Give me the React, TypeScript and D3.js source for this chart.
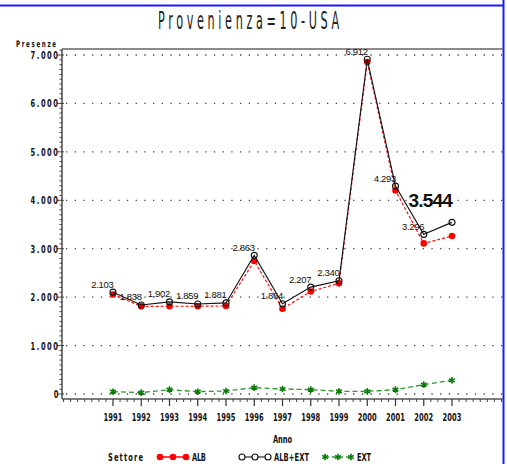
import React from "react";
import * as d3 from "d3";

const years = [1991, 1992, 1993, 1994, 1995, 1996, 1997, 1998, 1999, 2000, 2001, 2002, 2003];
const albExt = [2103, 1838, 1902, 1859, 1881, 2863, 1864, 2207, 2340, 6912, 4293, 3296, 3544];
const alb = [2055, 1810, 1812, 1811, 1819, 2745, 1761, 2117, 2285, 6857, 4203, 3110, 3262];
const ext = [48, 28, 90, 48, 62, 131, 103, 90, 55, 55, 90, 193, 282];
const yTicks = [0, 1000, 2000, 3000, 4000, 5000, 6000, 7000];
const title = "Provenienza=10-USA";
const yTitle = "Presenze";
const xTitle = "Anno";
const legendTitle = "Settore";
const seriesNames = ["ALB", "ALB+EXT", "EXT"];

const W = 507;
const H = 464;
const cond = "'DejaVu Sans Condensed', 'DejaVu Sans', sans-serif";
const sans = "'Liberation Sans', Arial, 'DejaVu Sans', sans-serif";

const it = d3.formatLocale({ decimal: ",", thousands: ".", grouping: [3], currency: ["", "€"] });
const fmt = it.format(",d");

// squeezed, letter-spaced "SAS-like" label text
function T(props: { x: number; y: number; w: number; anchor?: "start" | "end" | "middle"; size?: number; children: string; dy?: string }) {
  const { x, y, w, anchor = "start", size = 10.5, children, dy } = props;
  const sx = 0.68;
  const x0 = anchor === "start" ? x : anchor === "end" ? x - w : x - w / 2;
  return (
    <g transform={`translate(${x0},${y}) scale(${sx},1)`}>
      <text x={0} y={0} dy={dy} fontFamily={cond} fontWeight="bold" fontSize={size} fill="#111" textLength={w / sx} lengthAdjust="spacing">
        {children}
      </text>
    </g>
  );
}

export default function App() {
  const left = 62, right = 503, top = 49, bottom = 399;
  const x = d3.scaleLinear().domain([1991, 2003]).range([113, 452]);
  const y = d3.scaleLinear().domain([0, 7000]).range([394, 55]);
  const line = d3.line<number>().x((_, i) => x(years[i])).y((d) => y(d));
  const star = d3.symbol(d3.symbolAsterisk, 30)() as string;

  const minorY = d3.range(0, 7101, 100).filter((v) => v % 1000 !== 0 && y(v) > top);
  const minorX: number[] = [];
  for (let v = 1989.25; v < 2005; v += 0.25) {
    if (Math.abs(v - Math.round(v)) > 0.01 && x(v) > left && x(v) < right) minorX.push(v);
  }
  const minorXMajor = [1990, 2004].filter((v) => x(v) > left && x(v) < right);

  const legend = [
    { name: seriesNames[0], x0: 160, tx: 192, w: 14, kind: "alb" },
    { name: seriesNames[1], x0: 242, tx: 274, w: 35, kind: "tot" },
    { name: seriesNames[2], x0: 325, tx: 357, w: 14, kind: "ext" },
  ];

  return (
    <svg width={W} height={H} style={{ position: "absolute", left: 0, top: 0, background: "#fff" }}>
      <rect x={0} y={0} width={W} height={H} fill="#fff" />
      {/* blue frame */}
      <line x1={0} x2={504} y1={5.5} y2={5.5} stroke="#1a1aff" strokeWidth={2} />
      <line x1={503.5} x2={503.5} y1={0} y2={H} stroke="#1a1aff" strokeWidth={2} />

      <g transform="translate(250.5,28.5) scale(0.52,1)">
        <text x={0} y={0} textAnchor="middle" fontFamily={cond} fontSize={24} letterSpacing={7} fill="#222">
          {title}
        </text>
      </g>

      {/* gridlines */}
      {yTicks.map((t) => (
        <line key={"g" + t} x1={left + 4} x2={right} y1={y(t)} y2={y(t)} stroke="#444" strokeWidth={1.3} strokeDasharray="1.3,7.4" />
      ))}

      {/* frame / axes */}
      <line x1={left} x2={right} y1={top} y2={top} stroke="#666" strokeWidth={1.6} />
      <line x1={left} x2={right} y1={bottom} y2={bottom} stroke="#555" strokeWidth={1.6} />
      <line x1={left} x2={left} y1={top} y2={bottom} stroke="#555" strokeWidth={1.6} />

      {/* y ticks */}
      {yTicks.map((t) => {
        const s = fmt(t);
        return (
          <g key={"yt" + t}>
            <line x1={left - 5} x2={left + 2} y1={y(t)} y2={y(t)} stroke="#444" strokeWidth={1} />
            <T x={58} y={y(t) + 4} anchor="end" w={s.length * 5.8 - 1.6} size={11}>
              {s}
            </T>
          </g>
        );
      })}
      {minorY.map((t) => (
        <line key={"ym" + t} x1={left - 2.5} x2={left} y1={y(t)} y2={y(t)} stroke="#444" strokeWidth={1} />
      ))}
      <T x={16} y={47} w={40} size={9}>
        {yTitle}
      </T>

      {/* x ticks */}
      {years.map((yr) => (
        <g key={"xt" + yr}>
          <line x1={x(yr)} x2={x(yr)} y1={bottom} y2={bottom + 7} stroke="#333" strokeWidth={1.2} />
          <T x={x(yr)} y={421} anchor="middle" w={19} size={11}>
            {String(yr)}
          </T>
        </g>
      ))}
      {minorX.concat(minorXMajor).map((v) => (
        <line key={"xm" + v} x1={x(v)} x2={x(v)} y1={bottom} y2={bottom + 3} stroke="#444" strokeWidth={1} />
      ))}
      <T x={282.5} y={443} anchor="middle" w={19} size={11}>
        {xTitle}
      </T>

      {/* EXT */}
      <path d={line(ext) as string} fill="none" stroke="#2a9a2a" strokeWidth={1.3} strokeDasharray="5,3" />
      {ext.map((v, i) => (
        <path key={"e" + i} d={star} transform={`translate(${x(years[i])},${y(v)})`} stroke="#0a7a0a" strokeWidth={1.6} fill="none" />
      ))}

      {/* ALB */}
      <path d={line(alb) as string} fill="none" stroke="#ff1010" strokeWidth={1.2} strokeDasharray="3,2" />
      {alb.map((v, i) => (
        <circle key={"a" + i} cx={x(years[i])} cy={y(v)} r={3.3} fill="#ff0000" />
      ))}

      {/* ALB+EXT */}
      <path d={line(albExt) as string} fill="none" stroke="#111" strokeWidth={1.1} />
      {albExt.map((v, i) => (
        <circle key={"t" + i} cx={x(years[i])} cy={y(v)} r={3} fill="none" stroke="#111" strokeWidth={1.1} />
      ))}

      {/* value labels */}
      {albExt.map((v, i) =>
        i === albExt.length - 1 ? (
          <text key={"l" + i} x={x(years[i])} y={y(v) - 15} textAnchor="end" fontFamily={sans} fontWeight="bold" fontSize={19} letterSpacing={-0.8} fill="#111">
            {fmt(v)}
          </text>
        ) : (
          <text key={"l" + i} x={x(years[i]) + 0.5} y={y(v) - 4.5} textAnchor="end" fontFamily={sans} fontSize={9.5} letterSpacing={-0.3} fill="#111">
            {fmt(v)}
          </text>
        )
      )}

      {/* legend */}
      <T x={108} y={461} w={35} size={11}>
        {legendTitle}
      </T>
      {legend.map((l) => (
        <g key={l.name}>
          {l.kind === "alb" && (
            <g>
              <line x1={l.x0} x2={l.x0 + 26} y1={457} y2={457} stroke="#ff0000" strokeWidth={1.5} />
              {[0, 13, 26].map((d) => (
                <circle key={d} cx={l.x0 + d} cy={457} r={3.3} fill="#ff0000" />
              ))}
            </g>
          )}
          {l.kind === "tot" && (
            <g>
              <line x1={l.x0} x2={l.x0 + 26} y1={457} y2={457} stroke="#111" strokeWidth={1.1} />
              {[0, 13, 26].map((d) => (
                <circle key={d} cx={l.x0 + d} cy={457} r={3} fill="#fff" stroke="#111" strokeWidth={1.1} />
              ))}
            </g>
          )}
          {l.kind === "ext" && (
            <g>
              <line x1={l.x0} x2={l.x0 + 26} y1={457} y2={457} stroke="#2a9a2a" strokeWidth={1.3} strokeDasharray="4,3" />
              {[0, 13, 26].map((d) => (
                <path key={d} d={star} transform={`translate(${l.x0 + d},457)`} stroke="#0a7a0a" strokeWidth={1.6} fill="none" />
              ))}
            </g>
          )}
          <T x={l.tx} y={461} w={l.w} size={11}>
            {l.name}
          </T>
        </g>
      ))}
    </svg>
  );
}
